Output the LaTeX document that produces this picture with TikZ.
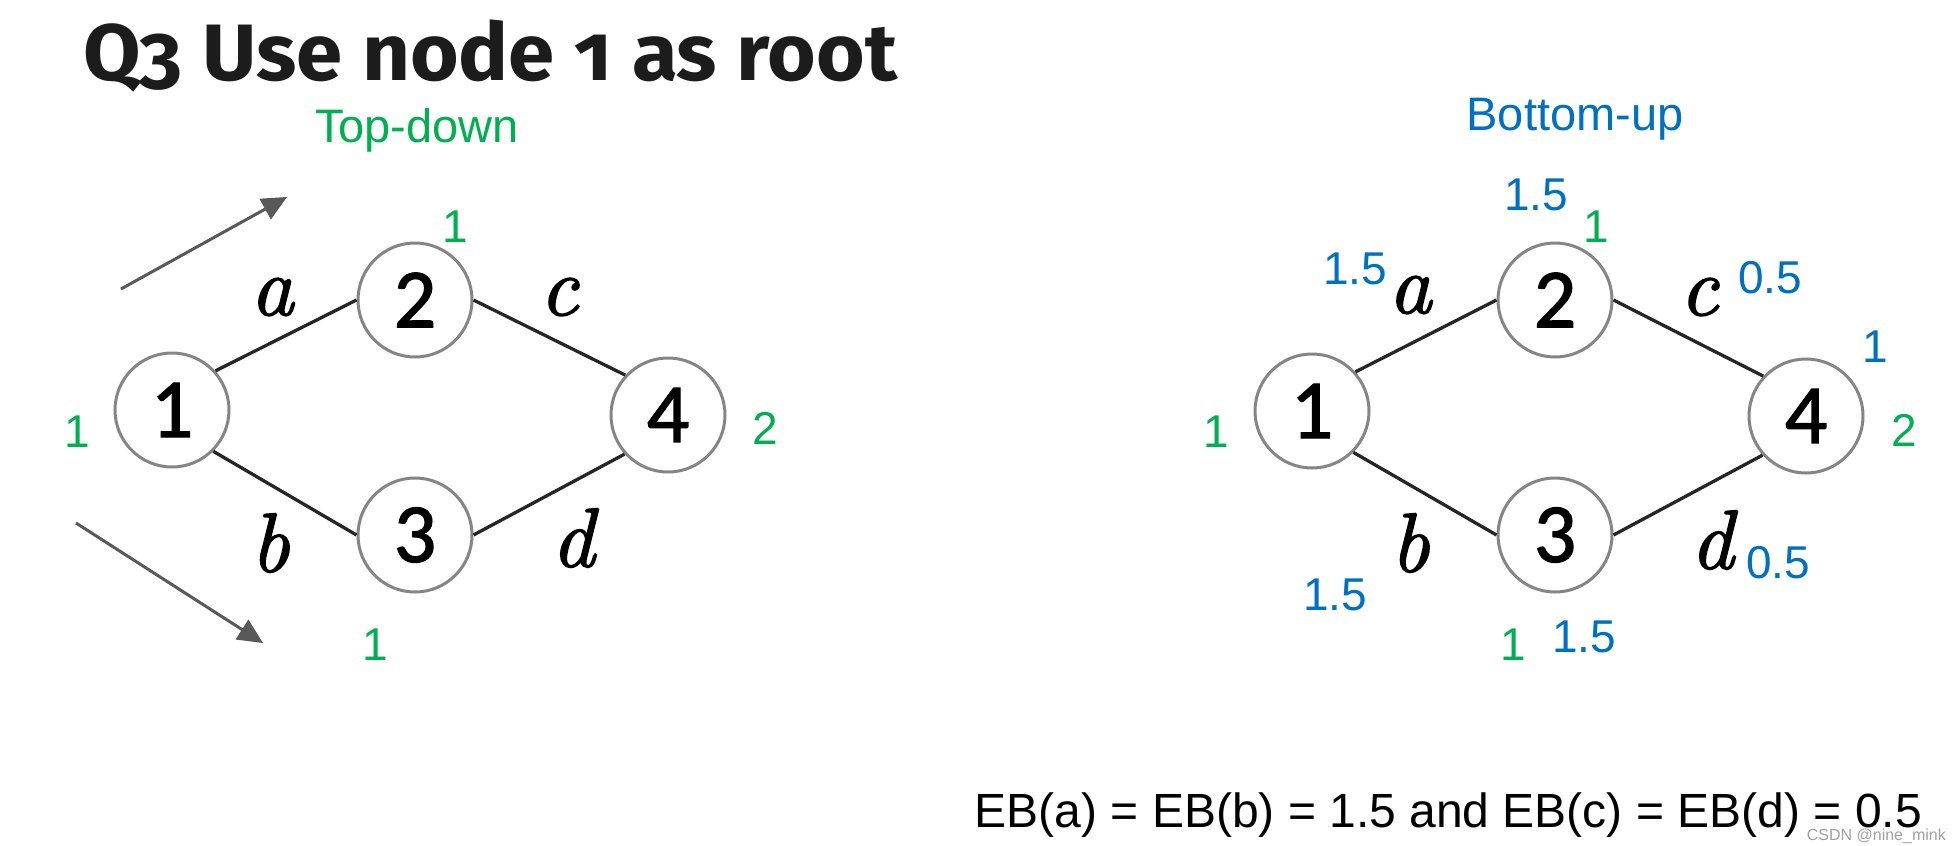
\documentclass[tikz,border=0pt]{standalone}
\usepackage{fontspec}
\setmainfont{Liberation Sans}
\newfontfamily\titlefont[Numbers=OldStyle]{Fira Sans}
\newfontfamily\digitfont[FakeBold=1.5]{Carlito}
\newfontfamily\letterfont[FakeBold=1.6]{lmroman10-italic.otf}
\usetikzlibrary{arrows.meta}
\definecolor{tdgreen}{HTML}{00B050}
\definecolor{bublue}{HTML}{0070C0}
\definecolor{circgray}{HTML}{858585}
\definecolor{edgegray}{HTML}{262626}
\definecolor{arrowgray}{HTML}{595959}
\definecolor{titleblack}{HTML}{1C1C1C}
\definecolor{wmgray}{HTML}{A0A0A0}
\tikzset{
  vert/.style={circle, draw=circgray, line width=3pt, fill=white, minimum size=114pt, inner sep=0pt,
    font=\digitfont\fontsize{84}{84}\selectfont},
  edge/.style={line width=3.3pt, draw=edgegray},
  elab/.style={inner sep=0pt, font=\letterfont\fontsize{84}{84}\selectfont},
  gnum/.style={inner sep=0pt, text=tdgreen, font=\fontsize{46}{46}\selectfont},
  bnum/.style={inner sep=0pt, text=bublue, font=\fontsize{46}{46}\selectfont},
  dirarrow/.style={draw=arrowgray, line width=3pt, -{Triangle[length=25pt,width=23pt]}},
}
\begin{document}
\begin{tikzpicture}[x=1pt, y=-1pt]
\useasboundingbox[fill=white] (0,0) rectangle (1960,846);

% title
\node[anchor=base west, inner sep=0pt, text=titleblack, font=\titlefont\bfseries\fontsize{80}{80}\selectfont] (title) at (83,80) {\scalebox{1.042}[1]{Q3 Use node 1 as root}};
\node[anchor=base, inner sep=0pt, text=tdgreen, font=\fontsize{47}{47}\selectfont] (td) at (417,142) {Top-down};
\node[anchor=base, inner sep=0pt, text=bublue, font=\fontsize{47}{47}\selectfont] (bu) at (1575,130) {Bottom-up};

% ---------- left graph ----------
\node[vert] (L1) at (172,410) {\raisebox{-8pt}{1}};
\node[vert] (L2) at (415,300) {\raisebox{-8pt}{2}};
\node[vert] (L3) at (415,535) {\raisebox{-8pt}{3}};
\node[vert] (L4) at (668,415) {\raisebox{-8pt}{4}};
\draw[edge] (L1.42) -- (L2.180);
\draw[edge] (L1.-45) -- (L3.180);
\draw[edge] (L2.0) -- (L4.137);
\draw[edge] (L3.0) -- (L4.-138);
\node[elab] (La) at (272,297) {a};
\node[elab] (Lb) at (270,543) {b};
\node[elab] (Lc) at (559,297) {c};
\node[elab] (Ld) at (573,538) {d};
\node[gnum] (Lg1) at (77,432) {1};
\node[gnum] (Lg2) at (455,227) {1};
\node[gnum] (Lg3) at (375,645) {1};
\node[gnum] (Lg4) at (765,428) {2};
\coordinate (ua0) at (121,289);
\coordinate (ua1) at (287,197);
\coordinate (da0) at (76,523);
\coordinate (da1) at (263,643);
\draw[dirarrow] (ua0) -- (ua1);
\draw[dirarrow] (da0) -- (da1);

% ---------- right graph ----------
\node[vert] (R1) at (1312,411) {\raisebox{-8pt}{1}};
\node[vert] (R2) at (1555,300) {\raisebox{-8pt}{2}};
\node[vert] (R3) at (1555,535) {\raisebox{-8pt}{3}};
\node[vert] (R4) at (1806,416) {\raisebox{-8pt}{4}};
\draw[edge] (R1.42) -- (R2.180);
\draw[edge] (R1.-45) -- (R3.180);
\draw[edge] (R2.0) -- (R4.137);
\draw[edge] (R3.0) -- (R4.-138);
\node[elab] (Ra) at (1410,295) {a};
\node[elab] (Rb) at (1410,543) {b};
\node[elab] (Rc) at (1699,297) {c};
\node[elab] (Rd) at (1712,540) {d};
\node[gnum] (Rg1) at (1216,432) {1};
\node[gnum] (Rg2) at (1596,227) {1};
\node[gnum] (Rg3) at (1513,645) {1};
\node[gnum] (Rg4) at (1904,430) {2};
\node[bnum] (Rb1) at (1536,195) {1.5};
\node[bnum] (Rb2) at (1355,269) {1.5};
\node[bnum] (Rb3) at (1335,595) {1.5};
\node[bnum] (Rb4) at (1584,637) {1.5};
\node[bnum] (Rb5) at (1770,278) {0.5};
\node[bnum] (Rb6) at (1778,563) {0.5};
\node[bnum] (Rb7) at (1875,347) {1};

% bottom statement
\node[anchor=base east, inner sep=0pt, font=\fontsize{48}{48}\selectfont] (eb) at (1922,827) {EB(a) = EB(b) = 1.5 and EB(c) = EB(d) = 0.5};
\node[anchor=east, inner sep=0pt, text=wmgray, font=\fontsize{16}{16}\selectfont] (wm) at (1946,836) {CSDN @nine\_mink};
\end{tikzpicture}
\end{document}
